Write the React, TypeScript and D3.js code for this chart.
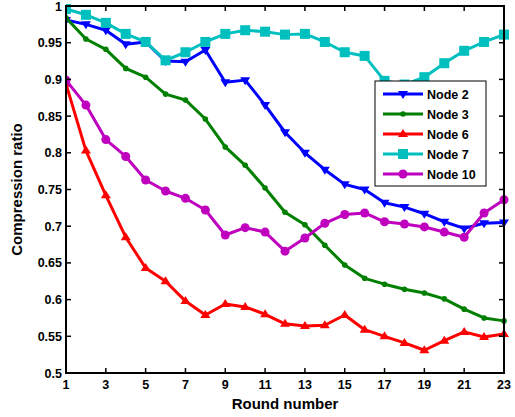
import React from "react";
import * as d3 from "d3";

const rounds = d3.range(1, 24);
const node2 = [0.981, 0.975, 0.967, 0.948, 0.951, 0.925, 0.924, 0.94, 0.896, 0.899, 0.865, 0.828, 0.8, 0.777, 0.757, 0.75, 0.732, 0.726, 0.717, 0.706, 0.697, 0.704, 0.705];
const node3 = [0.984, 0.955, 0.941, 0.915, 0.903, 0.88, 0.872, 0.846, 0.808, 0.783, 0.752, 0.719, 0.702, 0.674, 0.647, 0.629, 0.621, 0.614, 0.609, 0.601, 0.587, 0.575, 0.571];
const node6 = [0.894, 0.803, 0.742, 0.685, 0.643, 0.625, 0.598, 0.579, 0.594, 0.59, 0.58, 0.567, 0.564, 0.565, 0.579, 0.559, 0.55, 0.541, 0.531, 0.544, 0.556, 0.549, 0.553];
const node7 = [0.996, 0.988, 0.977, 0.962, 0.951, 0.926, 0.937, 0.951, 0.962, 0.967, 0.965, 0.961, 0.962, 0.951, 0.937, 0.932, 0.898, 0.893, 0.903, 0.922, 0.939, 0.951, 0.961];
const node10 = [0.899, 0.865, 0.818, 0.795, 0.763, 0.748, 0.738, 0.722, 0.688, 0.698, 0.692, 0.666, 0.684, 0.704, 0.716, 0.718, 0.706, 0.703, 0.699, 0.692, 0.685, 0.718, 0.736];

const seriesNames = ["Node 2", "Node 3", "Node 6", "Node 7", "Node 10"];
const seriesColors = ["#0000ff", "#007f00", "#ff0000", "#00bfbf", "#bf00bf"];
const seriesMarkers = ["triDown", "dot", "triUp", "square", "circle"];
const seriesValues = [node2, node3, node6, node7, node10];

const xTicks = [1, 3, 5, 7, 9, 11, 13, 15, 17, 19, 21, 23];
const yTicks = [0.5, 0.55, 0.6, 0.65, 0.7, 0.75, 0.8, 0.85, 0.9, 0.95, 1];

const W = 515, H = 417;
const L = 66, R = 504, T = 6, B = 373;

function Marker({ type, x, y, color }: { type: string; x: number; y: number; color: string }) {
  if (type === "triDown") {
    const s = 5;
    return <path d={`M${x - s},${y - s * 0.6}L${x + s},${y - s * 0.6}L${x},${y + s}Z`} fill={color} />;
  }
  if (type === "triUp") {
    const s = 5;
    return <path d={`M${x - s},${y + s * 0.6}L${x + s},${y + s * 0.6}L${x},${y - s}Z`} fill={color} />;
  }
  if (type === "square") {
    return <rect x={x - 5} y={y - 5} width={10} height={10} fill={color} />;
  }
  if (type === "circle") {
    return <circle cx={x} cy={y} r={4.5} fill={color} />;
  }
  return <circle cx={x} cy={y} r={2.8} fill={color} />;
}

export default function App() {
  const x = d3.scaleLinear().domain([1, 23]).range([L, R]);
  const y = d3.scaleLinear().domain([0.5, 1]).range([B, T]);
  const line = d3.line<number>().x((_, i) => x(rounds[i])).y((d) => y(d));
  const font = "'Liberation Sans', Arial, sans-serif";
  const legX = 375, legY = 81, legW = 111, legH = 105;
  return (
    <svg width={W} height={H} style={{ position: "absolute", left: 0, top: 0, background: "#fff" }}>
      <rect x={0} y={0} width={W} height={H} fill="#fff" />
      <defs>
        <clipPath id="plot">
          <rect x={L} y={T - 6} width={R - L + 6} height={B - T + 6} />
        </clipPath>
      </defs>
      <g clipPath="url(#plot)">
        {seriesValues.map((vals, si) => (
          <g key={si}>
            <path d={line(vals) || ""} fill="none" stroke={seriesColors[si]} strokeWidth={3} strokeLinejoin="round" />
            {vals.map((v, i) => (
              <Marker key={i} type={seriesMarkers[si]} x={x(rounds[i])} y={y(v)} color={seriesColors[si]} />
            ))}
          </g>
        ))}
      </g>
      {/* axes box */}
      <rect x={L} y={T} width={R - L} height={B - T} fill="none" stroke="#000" strokeWidth={2} />
      {xTicks.map((t) => (
        <g key={"x" + t}>
          <line x1={x(t)} x2={x(t)} y1={B} y2={B - 5} stroke="#000" strokeWidth={1.5} />
          <line x1={x(t)} x2={x(t)} y1={T} y2={T + 5} stroke="#000" strokeWidth={1.5} />
          <text x={x(t)} y={B + 16} textAnchor="middle" fontFamily={font} fontWeight="bold" fontSize={12.5}>{t}</text>
        </g>
      ))}
      {yTicks.map((t) => (
        <g key={"y" + t}>
          <line x1={L} x2={L + 5} y1={y(t)} y2={y(t)} stroke="#000" strokeWidth={1.5} />
          <line x1={R} x2={R - 5} y1={y(t)} y2={y(t)} stroke="#000" strokeWidth={1.5} />
          <text x={L - 4} y={y(t) + 4.5} textAnchor="end" fontFamily={font} fontWeight="bold" fontSize={12.5}>{String(t)}</text>
        </g>
      ))}
      <text x={(L + R) / 2} y={409} textAnchor="middle" fontFamily={font} fontWeight="bold" fontSize={15}>Round number</text>
      <text transform={`translate(22,${(T + B) / 2}) rotate(-90)`} textAnchor="middle" fontFamily={font} fontWeight="bold" fontSize={15}>Compression ratio</text>
      {/* legend */}
      <rect x={legX} y={legY} width={legW} height={legH} fill="#fff" stroke="#000" strokeWidth={1} />
      {seriesNames.map((n, i) => {
        const yy = legY + 13 + i * 20;
        return (
          <g key={n}>
            <line x1={legX + 8} x2={legX + 48} y1={yy} y2={yy} stroke={seriesColors[i]} strokeWidth={3} />
            <Marker type={seriesMarkers[i]} x={legX + 28} y={yy} color={seriesColors[i]} />
            <text x={legX + 52} y={yy + 4.5} fontFamily={font} fontWeight="bold" fontSize={12.5}>{n}</text>
          </g>
        );
      })}
    </svg>
  );
}
